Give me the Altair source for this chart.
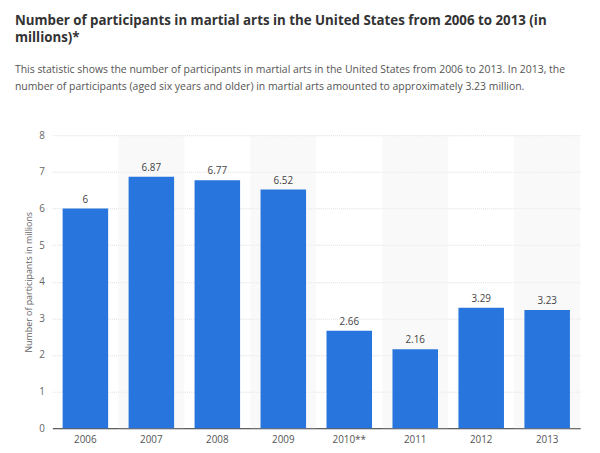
import altair as alt
import pandas as pd

years = ["2006", "2007", "2008", "2009", "2010**", "2011", "2012", "2013"]
values = [6, 6.87, 6.77, 6.52, 2.66, 2.16, 3.29, 3.23]
y_ticks = [0, 1, 2, 3, 4, 5, 6, 7, 8]

df = pd.DataFrame({"year": years, "value": values})
df["shade"] = [i % 2 == 1 for i in range(len(years))]
df["top"] = 8

FONT = "Open Sans"

x = alt.X("year:N", sort=years, title=None,
          scale=alt.Scale(paddingInner=0, paddingOuter=0),
          axis=alt.Axis(labelAngle=0, ticks=False, domain=True, domainColor="#333333",
                        domainWidth=1, labelColor="#555555", labelFontSize=10,
                        labelFont=FONT, labelPadding=6, grid=False))

y_scale = alt.Scale(domain=[0, 8], nice=False)
y_axis = alt.Axis(values=y_ticks, ticks=False, domain=False, grid=True,
                  gridColor="#dddddd", gridDash=[1, 1], labelColor="#666666",
                  labelFontSize=10, labelFont=FONT, labelPadding=8,
                  titleFont=FONT, titleFontSize=9, titleFontWeight="normal",
                  titleColor="#666666", titlePadding=5)
y_title = "Number of participants in millions"

bg = alt.Chart(df).transform_filter("datum.shade").mark_bar(
    width={"band": 1}, color="#f2f2f2", opacity=0.45
).encode(x=x, y=alt.Y("top:Q", scale=y_scale, title=y_title, axis=y_axis))

bars = alt.Chart(df).mark_bar(width={"band": 0.69}, color="#2876dd").encode(
    x=x,
    y=alt.Y("value:Q", scale=y_scale, title=y_title, axis=y_axis),
)

labels = alt.Chart(df).mark_text(dy=-9, fontSize=10, font=FONT, color="#444444").encode(
    x=x, y=alt.Y("value:Q", scale=y_scale, title=y_title, axis=y_axis),
    text=alt.Text("value:Q")
)

chart = alt.layer(bg, bars, labels).properties(
    width=535, height=297,
    autosize=alt.AutoSizeParams(type="none"),
    padding={"left": 45, "top": 126, "right": 12, "bottom": 14},
    title=alt.Title(
        text=["Number of participants in martial arts in the United States from 2006 to 2013 (in",
              "millions)*"],
        subtitle=["This statistic shows the number of participants in martial arts in the United States from 2006 to 2013. In 2013, the",
                  "number of participants (aged six years and older) in martial arts amounted to approximately 3.23 million."],
        anchor="start", frame="group", dx=-38, offset=38,
        font=FONT, fontSize=13.5, fontWeight="bold", color="#333333", lineHeight=18,
        subtitleFont=FONT, subtitleFontSize=10.6, subtitleColor="#555555",
        subtitleLineHeight=18, subtitlePadding=20,
    ),
).configure_view(stroke=None)

chart.save("out.html", embed_options={"renderer": "svg", "actions": False})
